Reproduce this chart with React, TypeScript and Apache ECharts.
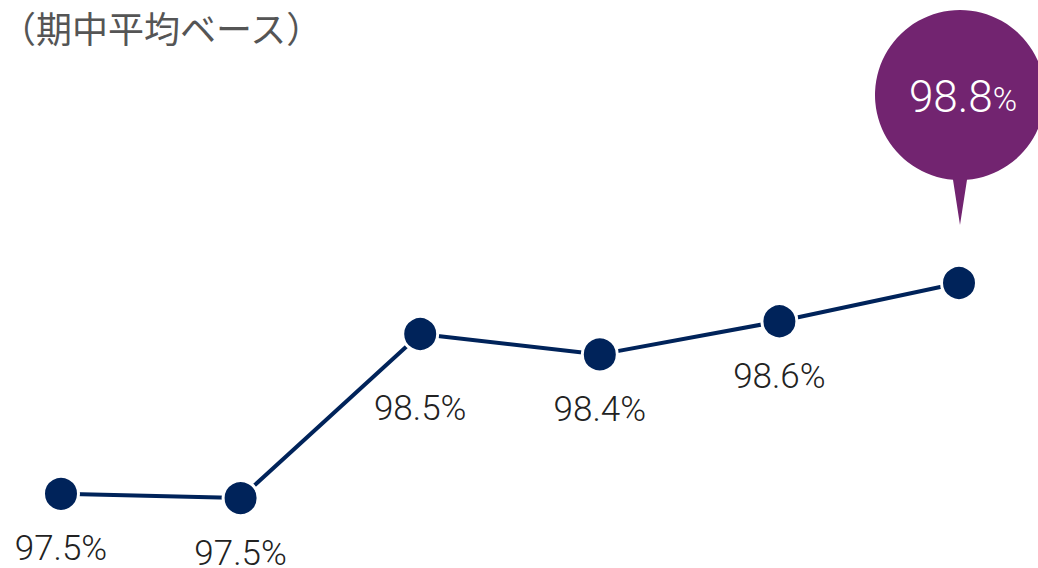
import React, { useEffect, useRef } from "react";
import * as echarts from "echarts";

const periods = ["P1", "P2", "P3", "P4", "P5", "P6"];
const rates = [97.56, 97.535, 98.5, 98.38, 98.575, 98.8];
const rateLabels = ["97.5%", "97.5%", "98.5%", "98.4%", "98.6%", "98.8%"];
const subtitle = "（期中平均ベース）";

const NAVY = "#00235a";
const PURPLE = "#722470";
const BALLOON =
  "path://M78,169.71 A85,85 0 1 1 92,169.71 L85,215 Z";

export default function App() {
  const ref = useRef<HTMLDivElement>(null);
  useEffect(() => {
    if (!ref.current) return;
    const chart = echarts.init(ref.current, null, { renderer: "svg" });
    const last = rates.length - 1;
    chart.setOption({
      animation: false,
      title: {
        text: subtitle,
        left: 0,
        top: 9,
        padding: 0,
        textStyle: {
          fontFamily: "Noto Sans CJK JP",
          fontSize: 36,
          fontWeight: "normal",
          color: "#555555",
        },
      },
      grid: { left: 61, right: 79, top: 249, bottom: 13 },
      xAxis: { type: "category", data: periods, boundaryGap: false, show: false },
      yAxis: { type: "value", min: 97.2, max: 99.0, show: false, splitLine: { show: false } },
      series: [
        {
          type: "line",
          data: rates.map((v, i) => ({
            value: v,
            label: {
              show: i !== last,
              offset: [0, i === 2 ? 74 : 55],
            },
          })),
          lineStyle: { color: NAVY, width: 4 },
          symbol: "circle",
          symbolSize: 35,
          itemStyle: { color: NAVY, borderColor: "#ffffff", borderWidth: 3 },
          label: {
            position: "inside",
            formatter: (p: any) => rateLabels[p.dataIndex],
            fontFamily: "Roboto",
            fontWeight: 300,
            fontSize: 35,
            color: "#222222",
          },
          emphasis: { disabled: true },
          markPoint: {
            symbol: BALLOON,
            symbolSize: [170, 215],
            symbolOffset: [1, -165.5],
            itemStyle: { color: PURPLE },
            label: {
              show: true,
              position: "inside",
              offset: [3, -21],
              formatter: () => {
                const t = rateLabels[last];
                return `{a|${t.replace("%", "")}}{b|%}`;
              },
              rich: {
                a: { fontFamily: "Roboto", fontWeight: 300, fontSize: 44, color: "#ffffff" },
                b: { fontFamily: "Roboto", fontWeight: 300, fontSize: 33, color: "#ffffff", padding: [6, 0, 0, 0] },
              },
            },
            data: [{ coord: [last, rates[last]], value: rates[last] }],
          },
        },
      ],
    });
    return () => chart.dispose();
  }, []);
  return (
    <div
      ref={ref}
      style={{ position: "fixed", left: 0, top: 0, width: 1038, height: 568, background: "#fff" }}
    />
  );
}
